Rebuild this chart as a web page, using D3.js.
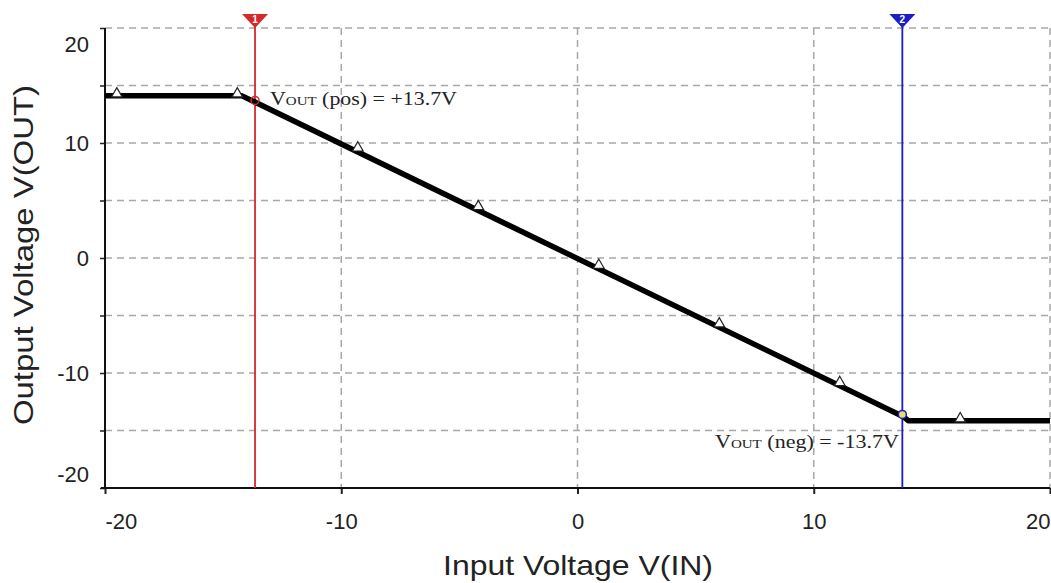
<!DOCTYPE html>
<html>
<head>
<meta charset="utf-8">
<script src="https://cdn.jsdelivr.net/npm/d3@7"></script>
<style>
  body { margin: 0; background: #fff; }
  .tick text { font-family: "Liberation Sans", Arial, sans-serif; font-size: 22px; fill: #222; }
</style>
</head>
<body>
<div id="plot_area"></div>
<script>
// transfer curve breakpoints
const curveVin  = [-20, -14.2, 13.8, 14.0, 20]
const curveVout = [14.1, 14.1, -13.8, -14.15, -14.15]

// simulation markers (small triangles on the trace)
const markerVin  = [-19.5, -14.4, -9.3, -4.2, 0.9, 6.0, 11.1, 16.2]
const markerVout = [14.1, 14.1, 9.4, 4.3, -0.8, -5.9, -11.0, -14.15]

// cursors
const cursorNames  = ['1', '2']
const cursorVin    = [-13.65, 13.75]
const cursorVout   = [13.7, -13.6]
const cursorColors = ['#d42a2a', '#1c1cc8']

const xTicks = [-20, -10, 0, 10, 20]
const yTicks = [-20, -15, -10, -5, 0, 5, 10, 15, 20]
const xGrid = [-10, 0, 10, 20]
const yGrid = [-15, -10, -5, 0, 5, 10, 15, 20]

const margin = { top: 28, right: 1, bottom: 95, left: 105 },
   svgWidth = 1051,
   svgHeight = 583,
   chartWidth = svgWidth - margin.left - margin.right,
   chartHeight = svgHeight - margin.top - margin.bottom

const svg = d3.select('#plot_area').append('svg')
    .attr('width', svgWidth)
    .attr('height', svgHeight)

let chartGroup = svg.append('g')
    .attr('transform', `translate(${margin.left}, ${margin.top})`)

let x = d3.scaleLinear().domain([-20, 20]).range([0, chartWidth])
let y = d3.scaleLinear().domain([-20, 20]).range([chartHeight, 0])

// dashed grid
chartGroup.append('g').selectAll('line')
    .data(yGrid).enter().append('line')
    .attr('x1', 0).attr('x2', chartWidth)
    .attr('y1', d => y(d)).attr('y2', d => y(d))
    .attr('stroke', '#a8a8a8').attr('stroke-width', 1.5)
    .attr('stroke-dasharray', '7,5')

chartGroup.append('g').selectAll('line')
    .data(xGrid).enter().append('line')
    .attr('x1', d => x(d)).attr('x2', d => x(d))
    .attr('y1', 0).attr('y2', chartHeight)
    .attr('stroke', '#a8a8a8').attr('stroke-width', 1.5)
    .attr('stroke-dasharray', '7,5')

// axes (plain hyphen minus like the original)
let leftAxis = d3.axisLeft(y)
    .tickValues(yTicks)
    .tickSize(5)
    .tickPadding(11)
    .tickFormat(d => d % 10 === 0 ? String(d) : '')

let bottomAxis = d3.axisBottom(x)
    .tickValues(xTicks)
    .tickSize(6)
    .tickPadding(19)
    .tickFormat(d => String(d))

let yAxis = chartGroup.append('g').call(leftAxis)
let xAxis = chartGroup.append('g')
    .attr('transform', `translate(0, ${chartHeight})`)
    .call(bottomAxis)

yAxis.select('.domain').remove()
xAxis.select('.domain').remove()
yAxis.selectAll('.tick line').attr('stroke', '#222').attr('stroke-width', 1.5)
xAxis.selectAll('.tick line').attr('stroke', '#222').attr('stroke-width', 2)

// end labels are pulled inside the axis range
yAxis.selectAll('.tick text').filter(d => d === 20).attr('dy', '1.05em')
yAxis.selectAll('.tick text').filter(d => d === -20).attr('dy', '-0.3em')
xAxis.selectAll('.tick text').filter(d => d === -20).attr('text-anchor', 'start')
xAxis.selectAll('.tick text').filter(d => d === 20).attr('text-anchor', 'end')

chartGroup.append('line')
    .attr('x1', 0).attr('x2', 0).attr('y1', 0).attr('y2', chartHeight)
    .attr('stroke', '#111').attr('stroke-width', 2)
chartGroup.append('line')
    .attr('x1', -4).attr('x2', chartWidth).attr('y1', chartHeight).attr('y2', chartHeight)
    .attr('stroke', '#111').attr('stroke-width', 2)

// cursors
cursorVin.forEach((v, i) => {
    let cx = x(v)
    chartGroup.append('line')
        .attr('x1', cx).attr('x2', cx).attr('y1', -13).attr('y2', chartHeight)
        .attr('stroke', cursorColors[i]).attr('stroke-width', 1.8)
    chartGroup.append('path')
        .attr('d', `M${cx - 13},-14 L${cx + 13},-14 L${cx},0 Z`)
        .attr('fill', cursorColors[i])
    chartGroup.append('text')
        .attr('x', cx).attr('y', -5)
        .attr('text-anchor', 'middle')
        .attr('font-family', 'Liberation Sans, Arial, sans-serif')
        .attr('font-size', 10).attr('font-weight', 'bold')
        .attr('fill', '#fff')
        .text(cursorNames[i])
})

// trace
let curve = curveVin.map((v, i) => [v, curveVout[i]])
chartGroup.append('path')
    .datum(curve)
    .attr('d', d3.line().x(d => x(d[0])).y(d => y(d[1])))
    .attr('fill', 'none')
    .attr('stroke', '#000')
    .attr('stroke-width', 5.5)
    .attr('stroke-linejoin', 'round')

// markers
chartGroup.append('g').selectAll('path')
    .data(markerVin.map((v, i) => [v, markerVout[i]]))
    .enter().append('path')
    .attr('d', d3.symbol().type(d3.symbolTriangle).size(50))
    .attr('transform', d => `translate(${x(d[0])}, ${y(d[1]) - 2})`)
    .attr('fill', '#fff')
    .attr('stroke', '#222')
    .attr('stroke-width', 1.2)

// cursor intersection points
cursorVin.forEach((v, i) => {
    chartGroup.append('circle')
        .attr('cx', x(v)).attr('cy', y(cursorVout[i]))
        .attr('r', 4)
        .attr('fill', i === 0 ? 'none' : '#e8e060')
        .attr('stroke', cursorColors[i]).attr('stroke-width', 1.5)
})

// annotations
function addNote(xPos, yPos, rest, anchorEnd, width) {
    let t = svg.append('text')
        .attr('font-family', 'Liberation Serif, Times New Roman, serif')
        .attr('font-size', 19)
        .attr('fill', '#222')
    t.append('tspan').text('V')
    t.append('tspan').attr('font-size', 13).text('OUT')
    t.append('tspan').text(rest)
    let w = t.node().getComputedTextLength()
    let sx = width / w
    let left = anchorEnd ? xPos - width : xPos
    t.attr('transform', `translate(${left}, ${yPos}) scale(${sx}, 1)`)
}
addNote(270, 105, ' (pos) = +13.7V', false, 187)
addNote(899, 448, ' (neg) = -13.7V', true, 184)

// axis titles
svg.append('text')
    .attr('x', 578).attr('y', 575)
    .attr('text-anchor', 'middle')
    .attr('font-family', 'Liberation Sans, Arial, sans-serif')
    .attr('font-size', 28)
    .attr('fill', '#222')
    .attr('textLength', 270)
    .attr('lengthAdjust', 'spacingAndGlyphs')
    .text('Input Voltage V(IN)')

svg.append('text')
    .attr('transform', 'translate(33, 255) rotate(-90)')
    .attr('text-anchor', 'middle')
    .attr('font-family', 'Liberation Sans, Arial, sans-serif')
    .attr('font-size', 28)
    .attr('fill', '#222')
    .attr('textLength', 340)
    .attr('lengthAdjust', 'spacingAndGlyphs')
    .text('Output Voltage V(OUT)')
</script>
</body>
</html>
